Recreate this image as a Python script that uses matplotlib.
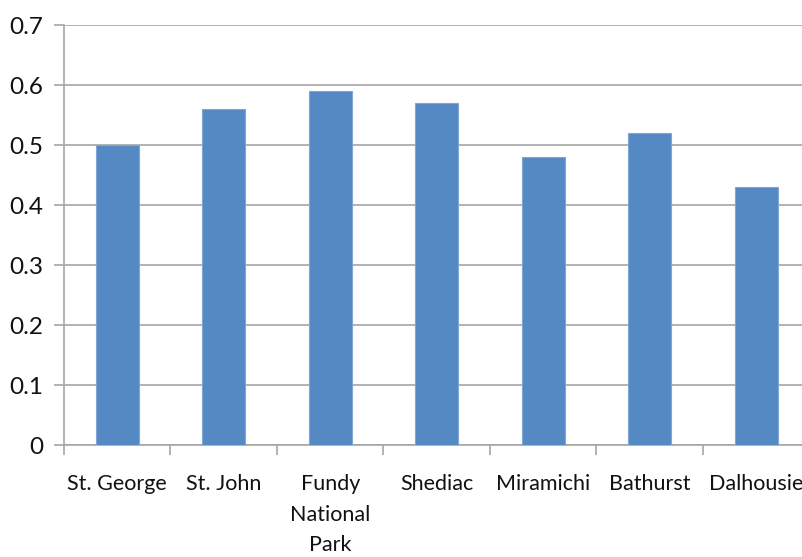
import matplotlib.pyplot as plt
import numpy as np

# Chart data
sites = ["St. George", "St. John", "Fundy\nNational\nPark", "Shediac",
         "Miramichi", "Bathurst", "Dalhousie"]
values = [0.50, 0.56, 0.59, 0.57, 0.48, 0.52, 0.43]

plt.rcParams['font.family'] = ['Lato', 'DejaVu Sans']

fig = plt.figure(figsize=(8.03, 5.57), dpi=100)
# axes run a little past the right edge, like the cropped original
ax = fig.add_axes([64/803, (557-445)/557, 745.5/803, 420/557])

x = np.arange(len(sites))
ax.bar(x, values, width=0.4, color="#5589C4", edgecolor="#7FA6D6",
       linewidth=0.8, zorder=3)

ax.set_xlim(-0.5, len(sites) - 0.5)
ax.set_ylim(0, 0.7)
ax.set_yticks(np.arange(0, 0.71, 0.1))
ax.set_yticklabels(["0", "0.1", "0.2", "0.3", "0.4", "0.5", "0.6", "0.7"])
ax.yaxis.grid(True, color="#A6A6A6", linewidth=1.2, zorder=0)

# category labels centered, tick marks between categories
ax.set_xticks(x)
ax.set_xticklabels(sites, linespacing=1.65, va="top")
ax.set_xticks(np.arange(-0.5, len(sites), 1), minor=True)
ax.tick_params(axis="x", which="major", length=0, pad=21, labelsize=15.5,
               labelcolor="#111111")
ax.tick_params(axis="x", which="minor", length=7, width=1.2, color="#A6A6A6")
ax.tick_params(axis="y", length=7, width=1.2, color="#A6A6A6", pad=8,
               labelsize=17.5, labelcolor="#111111")

for s in ["top", "right"]:
    ax.spines[s].set_visible(False)
for s in ["left", "bottom"]:
    ax.spines[s].set_color("#A6A6A6")
    ax.spines[s].set_linewidth(1.2)

fig.savefig("out.png", dpi=100)
